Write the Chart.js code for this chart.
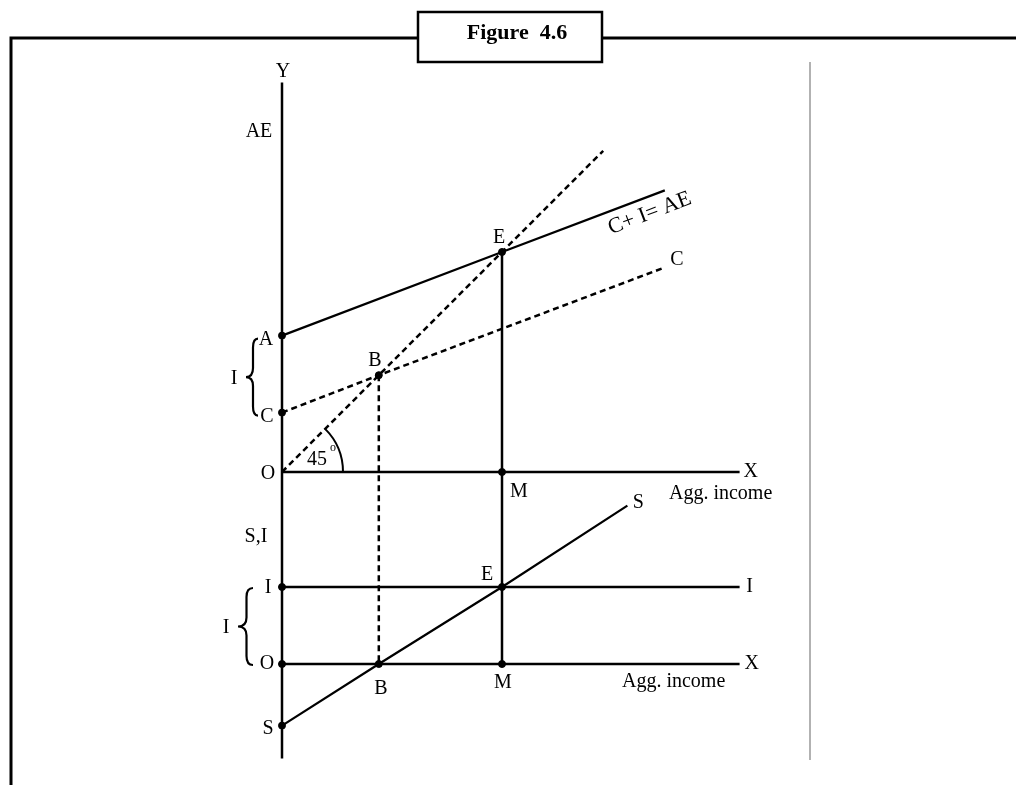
<!DOCTYPE html>
<html><head><meta charset="utf-8">
<script src="https://cdn.jsdelivr.net/npm/chart.js@4/dist/chart.umd.min.js"></script>
<style>html,body{margin:0;padding:0;background:#fff;overflow:hidden}canvas{display:block}</style>
</head><body>
<canvas id="c" width="1016" height="785"></canvas>
<script>
// ---------- data (income on x, AE / S,I on y) ----------
const cPlusILine      = [{x:0,y:6.2},{x:10,y:10},{x:17.4,y:12.8}];   // C + I = AE
const consumptionLine = [{x:0,y:2.7},{x:4.4,y:4.4},{x:17.4,y:9.3}];  // C
const line45          = [{x:0,y:0},{x:14.6,y:14.6}];                 // 45 degree line
const topXAxis        = [{x:0,y:0},{x:20.8,y:0}];
const investLine      = [{x:0,y:3.5},{x:20.8,y:3.5}];                // I
const savingLine      = [{x:0,y:-2.8},{x:4.4,y:0},{x:10,y:3.5},{x:15.7,y:7.2}]; // S
const bottomXAxis     = [{x:0,y:0},{x:20.8,y:0}];
const topDots         = [{x:0,y:6.2},{x:0,y:2.7},{x:4.4,y:4.4},{x:10,y:10},{x:10,y:0}];
const bottomDots      = [{x:0,y:3.5},{x:0,y:0},{x:0,y:-2.8},{x:4.4,y:0},{x:10,y:3.5},{x:10,y:0}];
const yAxisTopEnd = 17.7, yAxisBottomEnd = -4.3;
const equilibriumIncome = 10, breakEvenIncome = 4.4;

// ---------- layout ----------
const PX = 22;                 // pixels per unit
const ORIGIN_X = 282, TOP_ORIGIN_Y = 472, BOTTOM_ORIGIN_Y = 664;
const PANEL_GAP = (BOTTOM_ORIGIN_Y - TOP_ORIGIN_Y) / PX;
const toBottom = p => ({x:p.x, y:p.y - PANEL_GAP});

const yAxisLine  = [{x:0,y:yAxisTopEnd}, toBottom({x:0,y:yAxisBottomEnd})];
const emLine     = [{x:equilibriumIncome,y:10}, toBottom({x:equilibriumIncome,y:0})];
const bDropLine  = [{x:breakEvenIncome,y:4.4}, toBottom({x:breakEvenIncome,y:0})];

const topLabels = [
  {t:'Y',  at:[0,yAxisTopEnd], d:[1,-11]},
  {t:'AE', at:[0,yAxisTopEnd], d:[-23,49]},
  {t:'A',  at:[0,6.2], d:[-16,4]},
  {t:'C',  at:[0,2.7], d:[-15,4]},
  {t:'O',  at:[0,0],   d:[-14,2]},
  {t:'I',  at:[0,4.45], d:[-48,5]},
  {t:'B',  at:[4.4,4.4], d:[-4,-14]},
  {t:'E',  at:[10,10], d:[-3,-14]},
  {t:'C',  at:[17.4,9.3], d:[12,-8]},
  {t:'M',  at:[10,0], d:[17,20]},
  {t:'X',  at:[20.8,0], d:[11,0]},
  {t:'Agg. income', at:[20.8,0], d:[-19,22]},
  {t:'45', at:[0,0], d:[35,-12]},
  {t:'o',  at:[0,0], d:[51,-24], size:12},
  {t:'C+ I= AE', at:[17.4,12.8], d:[-15,23], rot:-20.8, size:22}
];
const bottomLabels = [
  {t:'S,I', at:[0,0], d:[-26,-127]},
  {t:'I', at:[0,3.5], d:[-14,1]},
  {t:'O', at:[0,0], d:[-15,0]},
  {t:'S', at:[0,-2.8], d:[-14,3]},
  {t:'I', at:[0,1.75], d:[-56,2]},
  {t:'B', at:[4.4,0], d:[2,25]},
  {t:'M', at:[10,0], d:[1,19]},
  {t:'Agg. income', at:[20.8,0], d:[-66,18]},
  {t:'X', at:[20.8,0], d:[12,0]},
  {t:'I', at:[20.8,3.5], d:[10,0]},
  {t:'E', at:[10,3.5], d:[-15,-12]},
  {t:'S', at:[15.7,7.2], d:[11,-3]}
];

const solid = (data, w) => ({type:'line', data, borderColor:'#000', borderWidth:w||2, pointRadius:0, tension:0, fill:false});
const dashed = (data) => ({type:'line', data, borderColor:'#000', borderWidth:2.5, borderDash:[6,4], pointRadius:0, tension:0, fill:false});

const decor = {
  id:'decor',
  beforeDraw(chart){
    const ctx = chart.ctx;
    ctx.save();
    ctx.fillStyle = '#fff'; ctx.fillRect(0,0,chart.width,chart.height);
    ctx.strokeStyle = '#000'; ctx.lineWidth = 3;
    ctx.beginPath(); ctx.moveTo(11,785); ctx.lineTo(11,38); ctx.lineTo(1016,38); ctx.stroke();
    ctx.fillStyle = '#fff'; ctx.fillRect(418,12,184,50);
    ctx.lineWidth = 2.5; ctx.strokeRect(418,12,184,50);
    ctx.fillStyle = '#000';
    ctx.font = 'bold 22px "Liberation Serif","DejaVu Serif",serif';
    ctx.textAlign = 'center'; ctx.textBaseline = 'middle';
    ctx.fillText('Figure  4.6', 517, 33);
    ctx.strokeStyle = '#999'; ctx.lineWidth = 1.5;
    ctx.beginPath(); ctx.moveTo(810,62); ctx.lineTo(810,760); ctx.stroke();
    ctx.restore();
  },
  afterDatasetsDraw(chart){
    const ctx = chart.ctx, xs = chart.scales.x, ys = chart.scales.y;
    const px = (x,y) => [xs.getPixelForValue(x), ys.getPixelForValue(y)];
    ctx.save();
    ctx.fillStyle = '#000'; ctx.strokeStyle = '#000';
    ctx.textAlign = 'center'; ctx.textBaseline = 'middle';
    const draw = (list, bottom) => list.forEach(l => {
      const [x,y] = px(l.at[0], bottom ? l.at[1]-PANEL_GAP : l.at[1]);
      ctx.save();
      ctx.font = (l.size||20) + 'px "Liberation Serif","DejaVu Serif",serif';
      ctx.translate(x + l.d[0], y + l.d[1]);
      if (l.rot) ctx.rotate(l.rot*Math.PI/180);
      ctx.fillText(l.t, 0, 0);
      ctx.restore();
    });
    draw(topLabels,false); draw(bottomLabels,true);
    // braces
    const brace = (xR, xT, y1, y2) => {
      const xM = (xR+xT)/2 + 1, ym = (y1+y2)/2, q = 9;
      ctx.beginPath();
      ctx.moveTo(xR, y1);
      ctx.quadraticCurveTo(xM, y1, xM, y1+q);
      ctx.lineTo(xM, ym-q);
      ctx.quadraticCurveTo(xM, ym, xT, ym);
      ctx.quadraticCurveTo(xM, ym, xM, ym+q);
      ctx.lineTo(xM, y2-q);
      ctx.quadraticCurveTo(xM, y2, xR, y2);
      ctx.lineWidth = 2.2; ctx.stroke();
    };
    const [ox, oyA] = px(0,6.2), [, oyC] = px(0,2.7);
    brace(ox-24, ox-36, oyA+3, oyC+3);
    const [, oyI] = px(0,3.5-PANEL_GAP), [, oyO] = px(0,-PANEL_GAP);
    brace(ox-29, ox-44, oyI+1, oyO+1);
    // 45 degree arc
    const [x0,y0] = px(0,0);
    ctx.beginPath(); ctx.arc(x0, y0, 61, -Math.PI/4, 0); ctx.lineWidth = 2; ctx.stroke();
    ctx.restore();
  }
};

new Chart(document.getElementById('c'), {
  type:'line',
  data:{datasets:[
    solid(yAxisLine, 2.5),
    solid(topXAxis, 2.5),
    solid(bottomXAxis.map(toBottom), 2.5),
    solid(cPlusILine, 2.2),
    dashed(consumptionLine),
    dashed(line45),
    solid(emLine, 2.5),
    dashed(bDropLine),
    solid(investLine.map(toBottom), 2.5),
    solid(savingLine.map(toBottom), 2.2),
    {type:'scatter', data:topDots.concat(bottomDots.map(toBottom)), pointRadius:3.5, pointBackgroundColor:'#000', pointBorderColor:'#000', showLine:false}
  ]},
  options:{
    responsive:false, devicePixelRatio:1, animation:false,
    layout:{padding:0, autoPadding:false},
    plugins:{legend:{display:false}, tooltip:{enabled:false}, title:{display:false}},
    scales:{
      x:{type:'linear', min:-ORIGIN_X/PX, max:(1016-ORIGIN_X)/PX, display:false},
      y:{type:'linear', min:-(785-TOP_ORIGIN_Y)/PX, max:TOP_ORIGIN_Y/PX, display:false}
    }
  },
  plugins:[decor]
});
</script>
</body></html>
